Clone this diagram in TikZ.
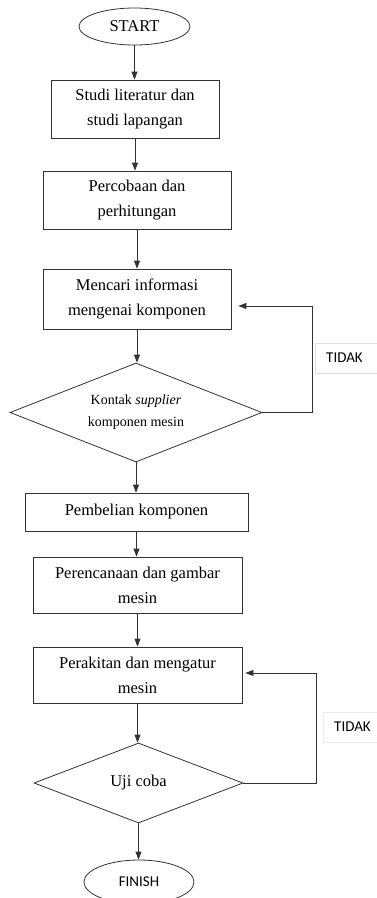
\documentclass[tikz,border=0pt]{standalone}
\usepackage{fontspec}
\setmainfont{Liberation Serif}
\newfontfamily\labelfont{Carlito}
\usetikzlibrary{shapes.geometric,arrows.meta}

\tikzset{
  stepbox/.style={shape=rectangle, draw=black!80, line width=0.8pt, align=center,
    font=\fontsize{16.5}{25}\selectfont, inner sep=0pt},
  terminal/.style={shape=ellipse, draw=black!80, line width=0.8pt, inner sep=0pt},
  decision/.style={shape=diamond, aspect=2.5, draw=black!80, line width=0.8pt,
    align=center, inner sep=0pt},
  flow/.style={draw=black!80, line width=0.8pt, -{Triangle[length=8pt,width=6pt]}},
  notelabel/.style={shape=rectangle, draw=black!12, anchor=west, inner xsep=11pt,
    text width=60pt, minimum height=30pt, font=\labelfont\fontsize{15}{18}\selectfont}
}

\begin{document}
\begin{tikzpicture}[x=1pt,y=-1pt]
		\fill[white] (0,0) rectangle (376,898);
		\useasboundingbox (0,0) rectangle (376,898);
		% steps, top to bottom
		\node[terminal, minimum width=111pt, minimum height=37pt, font=\fontsize{16.5}{20}\selectfont] (start) at (134.5,26.5) {START};
		\node[stepbox, minimum width=168pt, minimum height=58pt] (studi) at (135,109) {Studi literatur dan\\studi lapangan};
		\node[stepbox, minimum width=188pt, minimum height=58pt] (coba) at (137,200) {Percobaan dan\\perhitungan};
		\node[stepbox, minimum width=188pt, minimum height=60pt] (info) at (137,299) {Mencari informasi\\mengenai komponen};
		\node[decision, minimum width=252pt, minimum height=99pt, font=\fontsize{14}{22}\selectfont] (kontak) at (136,412.5) {Kontak \textit{supplier}\\komponen mesin};
		\node[stepbox, minimum width=223pt, minimum height=38pt] (beli) at (136.5,512) {Pembelian komponen};
		\node[stepbox, minimum width=209pt, minimum height=56pt] (rencana) at (137.5,585) {Perencanaan dan gambar\\mesin};
		\node[stepbox, minimum width=209pt, minimum height=56pt] (rakit) at (137.5,675) {Perakitan dan mengatur\\mesin};
		\node[decision, minimum width=209pt, minimum height=80pt, font=\fontsize{16.5}{20}\selectfont] (uji) at (138.5,783) {Uji coba};
		\node[terminal, minimum width=110pt, minimum height=44pt, font=\labelfont\fontsize{15}{18}\selectfont] (finish) at (139,882) {FINISH};
		% labels of the loops
		\node[notelabel] (tidak1) at (315,358) {TIDAK};
		\node[notelabel, draw=black!8] (tidak2) at (323,727) {TIDAK};
		% connectors
		\path[flow] (start.south) -- (start.south |- studi.north);
		\path[flow] (studi.south) -- (studi.south |- coba.north);
		\path[flow] (coba.south) -- (coba.south |- info.north);
		\path[flow] (info.south) -- (info.south |- kontak.north);
		\path[flow] (kontak.south) -- (kontak.south |- beli.north);
		\path[flow] (beli.south) -- (beli.south |- rencana.north);
		\path[flow] (rencana.south) -- (rencana.south |- rakit.north);
		\path[flow] (rakit.south) -- (rakit.south |- uji.north);
		\path[flow] (uji.south) -- (uji.south |- finish.north);
		\path[flow, shorten >=7pt] (kontak.east) -- (312,412.5) |- ([yshift=-7pt]info.east);
		\path[flow, shorten >=3pt] (uji.east) -- (316,783) |- ([yshift=2pt]rakit.east);
	\end{tikzpicture}
\end{document}
